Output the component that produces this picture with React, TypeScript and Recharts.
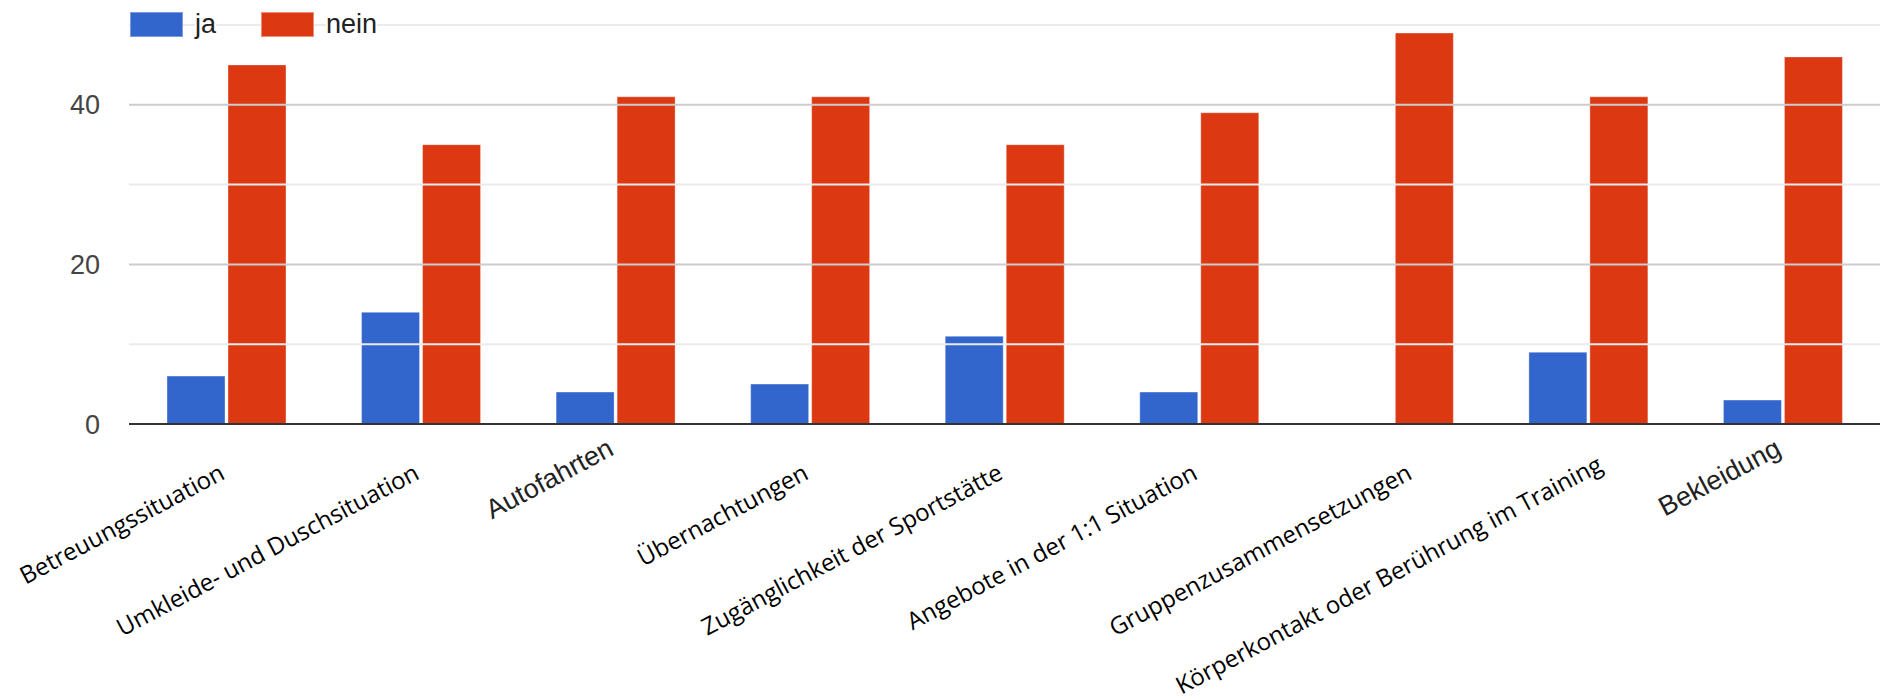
import { BarChart, Bar, XAxis, YAxis, Legend, ReferenceLine } from 'recharts';

const categories = [
    'Betreuungssituation',
    'Umkleide- und Duschsituation',
    'Autofahrten',
    'Übernachtungen',
    'Zugänglichkeit der Sportstätte',
    'Angebote in der 1:1 Situation',
    'Gruppenzusammensetzungen',
    'Körperkontakt oder Berührung im Training',
    'Bekleidung',
];
const jaValues = [6, 14, 4, 5, 11, 4, 0, 9, 3];
const neinValues = [45, 35, 41, 41, 35, 39, 49, 41, 46];
const yTicks = [0, 10, 20, 30, 40, 50];
const yLabelTicks = [0, 20, 40];
const majorGrid = [20, 40];
const minorGrid = [10, 30, 50];
// these two labels keep the original chart font, the rest were pasted over
const plainLabels = ['Autofahrten', 'Bekleidung'];

const BLUE = '#3366cc';
const RED = '#dc3912';

// small nudges for the pasted labels, which were not placed evenly
const labelNudge: Record<string, [number, number]> = {
    Gruppenzusammensetzungen: [20, 0],
    'Körperkontakt oder Berührung im Training': [16, -8],
};

const data = categories.map((name, i) => ({ name, ja: jaValues[i], nein: neinValues[i] }));

const XTick = ({ x, y, payload }: any) => {
    const plain = plainLabels.includes(payload.value);
    const [nx, ny] = labelNudge[payload.value] || [0, 0];
    const tx = x + nx;
    const ty = y + (plain ? 30 : 54) + ny;
    return (
        <text
            x={tx}
            y={ty}
            transform={`rotate(-28 ${tx} ${ty})`}
            textAnchor="end"
            fill={plain ? '#222' : '#000'}
            style={{
                fontFamily: plain ? '"Liberation Sans", Arial, sans-serif' : '"Open Sans", sans-serif',
                fontSize: plain ? 27 : 24,
            }}
        >
            {payload.value}
        </text>
    );
};

const LegendBox = () => (
    <div style={{ display: 'flex', alignItems: 'center', paddingLeft: 130, paddingTop: 10 }}>
        {[
            { label: 'ja', color: BLUE, border: '#7a9be0' },
            { label: 'nein', color: RED, border: '#ee8e7a' },
        ].map((item) => (
            <div key={item.label} style={{ display: 'flex', alignItems: 'center', marginRight: 45 }}>
                <div
                    style={{
                        width: 51,
                        height: 23,
                        background: item.color,
                        border: `1px solid ${item.border}`,
                    }}
                />
                <span
                    style={{
                        marginLeft: 12,
                        fontFamily: '"Liberation Sans", Arial, sans-serif',
                        fontSize: 27,
                        color: '#222',
                        background: '#fff',
                        lineHeight: '28px',
                    }}
                >
                    {item.label}
                </span>
            </div>
        ))}
    </div>
);

export default function App() {
    return (
        <div style={{ position: 'absolute', left: 0, top: 0, width: 1883, height: 700, background: '#fff' }}>
            <BarChart
                width={1883}
                height={700}
                data={data}
                margin={{ top: 25, right: 3, left: 0, bottom: 0 }}
                barCategoryGap={38}
                barGap={3}
            >
                {minorGrid.map((v) => (
                    <ReferenceLine key={`mi${v}`} y={v} stroke="#ebebeb" strokeWidth={2} />
                ))}
                {majorGrid.map((v) => (
                    <ReferenceLine key={`ma${v}`} y={v} stroke="#cccccc" strokeWidth={2} />
                ))}
                <XAxis
                    dataKey="name"
                    interval={0}
                    height={276}
                    tickLine={false}
                    tickSize={0}
                    tickMargin={0}
                    axisLine={{ stroke: '#333', strokeWidth: 2 }}
                    tick={<XTick />}
                />
                <YAxis
                    width={129}
                    domain={[0, 50]}
                    ticks={yTicks}
                    interval={0}
                    axisLine={false}
                    tickLine={false}
                    tickSize={0}
                    tickMargin={29}
                    tickFormatter={(v) => (yLabelTicks.includes(v) ? String(v) : '')}
                    tick={{ fill: '#444', fontSize: 27, fontFamily: '"Liberation Sans", Arial, sans-serif' }}
                />
                <Legend
                    layout="horizontal"
                    verticalAlign="middle"
                    align="center"
                    wrapperStyle={{ top: 0, left: 0, width: 'auto' }}
                    content={<LegendBox />}
                />
                <Bar dataKey="ja" fill={BLUE} stroke="#ffffff" strokeOpacity={0.35} strokeWidth={1} isAnimationActive={false} />
                <Bar dataKey="nein" fill={RED} stroke="#ffffff" strokeOpacity={0.35} strokeWidth={1} isAnimationActive={false} />
            </BarChart>
        </div>
    );
}
